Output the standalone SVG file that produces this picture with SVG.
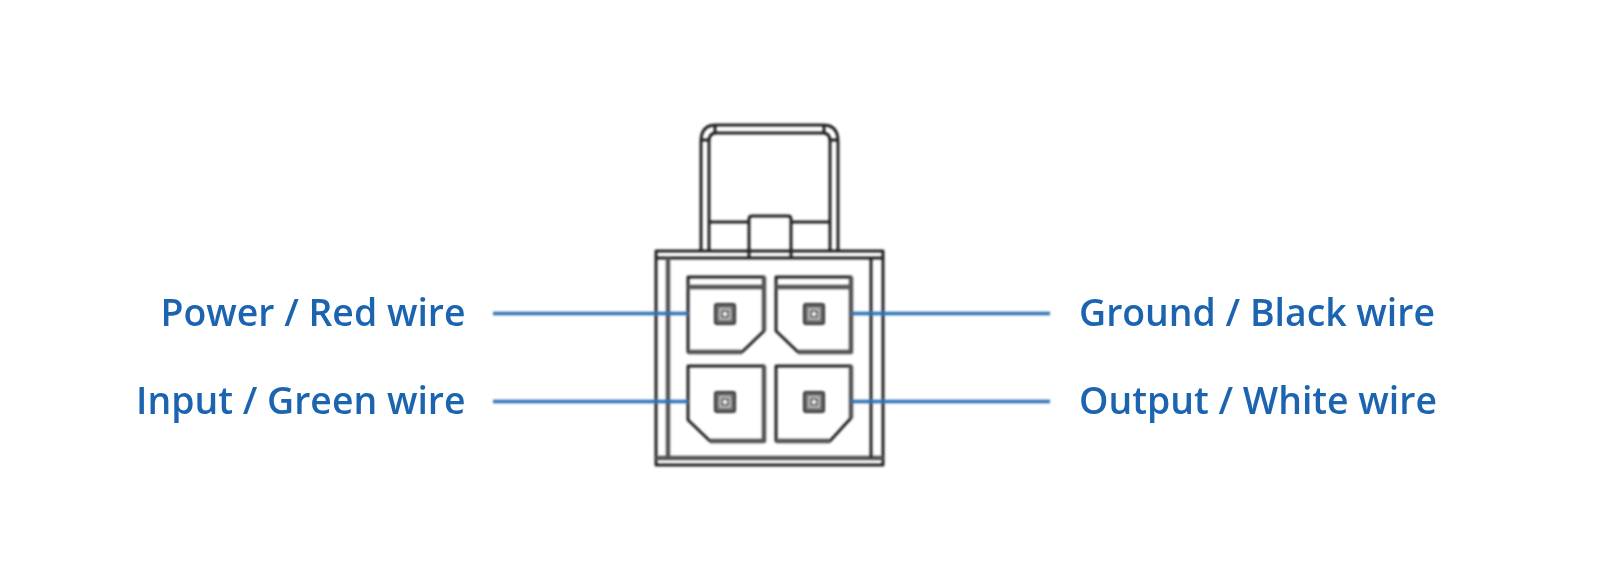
<svg xmlns="http://www.w3.org/2000/svg" width="1600" height="584" viewBox="0 0 1600 584">
<style>
.o{fill:none;stroke:#222;stroke-width:3;stroke-linejoin:round}
.t{fill:none;stroke:#555;stroke-width:4.4;stroke-linejoin:round}
.c{fill:none;stroke:#2f72b5;stroke-width:3.6}
.l{font-family:"Open Sans",sans-serif;font-weight:600;font-size:37.4px;fill:#1a64b0}
.s{fill:#6a6a6a;stroke:#2a2a2a;stroke-width:2}
.h{fill:none;stroke:#ccc;stroke-width:1.6}
</style>
<defs><filter id="b" x="-5%" y="-5%" width="110%" height="110%"><feGaussianBlur stdDeviation="0.8"/></filter>
<filter id="bt" x="-5%" y="-5%" width="110%" height="110%"><feGaussianBlur stdDeviation="0.4"/></filter>
<g id="sq"><rect x="-10" y="-10" width="20" height="20" rx="2" class="s"/><rect x="-5" y="-5" width="10" height="10" class="h"/><circle r="2" fill="#fff"/></g></defs>
<rect width="1600" height="584" fill="#fff"/>
<g filter="url(#b)">
<g id="housing">
<path class="o" d="M701 251V141Q701 125 716 125H823Q838 125 838 141V251"/>
<path class="o" d="M709 251V141Q709 133 716 133H823Q830 133 830 141V251"/>
<path class="o" d="M715 125V133M824 125V133M701 140H709M830 140H838"/>
<path class="o" d="M709 222H749M791 222H830"/>
<path class="o" d="M749 258V219Q749 216 752 216H788Q791 216 791 219V258"/>
<rect class="o" x="656" y="251" width="227" height="214"/>
<path class="o" d="M656 258H883"/>
<path class="t" d="M656 458H883"/>
<path class="t" d="M668 258V458"/>
<path class="o" d="M871 258V458"/>
</g>
<g id="pin-power">
<path class="o" d="M688 277H764V331L742 352H688Z"/><path class="t" d="M688 287H764M764 277V331M688 352H742"/>
<use href="#sq" x="725" y="314"/></g>
<g id="pin-ground">
<path class="o" d="M776 277H851V352H798L776 331Z"/><path class="t" d="M776 287H851M851 277V352H798"/>
<use href="#sq" x="814" y="314"/></g>
<g id="pin-input">
<path class="o" d="M688 366H764V441H710L688 420Z"/><path class="t" d="M764 366V441H710"/>
<use href="#sq" x="725" y="402"/></g>
<g id="pin-output">
<path class="o" d="M776 366H851V418L830 441H776Z"/><path class="t" d="M851 366V418M776 441H830"/>
<use href="#sq" x="814" y="402"/></g>
<g id="connectors">
<path class="c" d="M493 313.5H688M493 401.5H688M851 313.5H1050M851 401.5H1050"/>
</g>
</g>
<g filter="url(#bt)">
<g id="label-power"><text class="l" x="465.500" y="326" text-anchor="end">Power / Red wire</text></g>
<g id="label-input"><text class="l" x="465.500" y="414" text-anchor="end">Input / Green wire</text></g>
<g id="label-ground"><text class="l" x="1079" y="326">Ground / Black wire</text></g>
<g id="label-output"><text class="l" x="1079" y="414">Output / White wire</text></g>
</g>
</svg>
